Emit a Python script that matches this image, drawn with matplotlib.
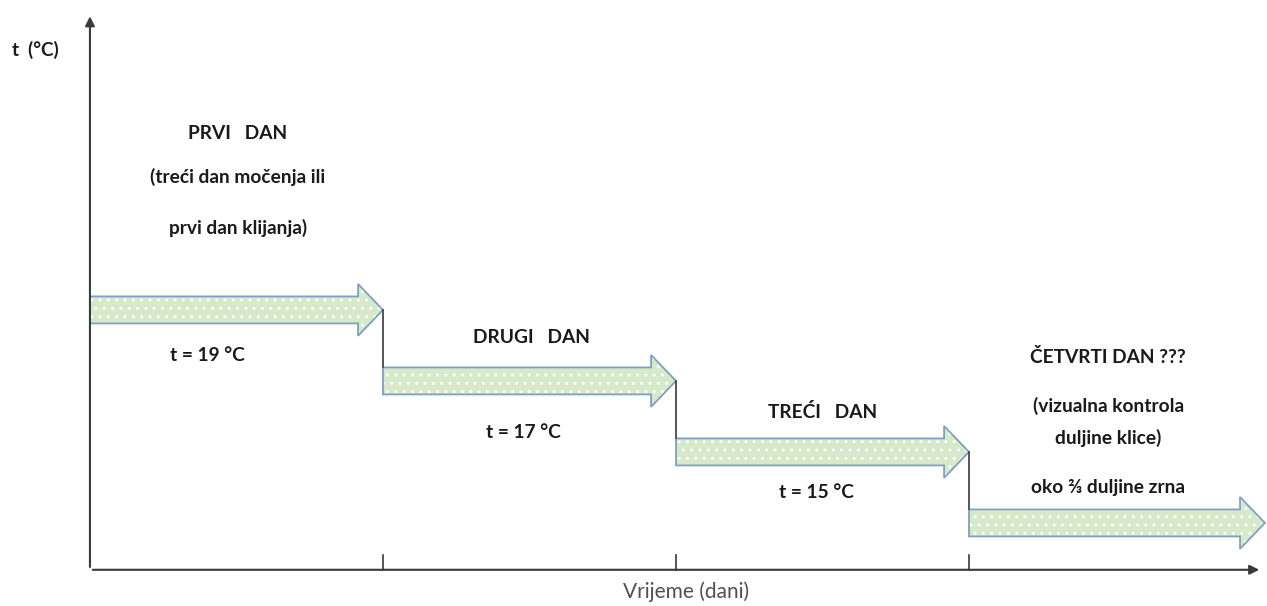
import numpy as np
import matplotlib.pyplot as plt
from matplotlib.patches import FancyArrow

# podaci: dani i temperature
dani_start = [0, 1, 2, 3]
temperature = [19, 17, 15, 13]          # zadnja razina bez oznake (???)
naslovi = ['PRVI   DAN', 'DRUGI   DAN', 'TREĆI   DAN', 'ČETVRTI DAN ???']
opis_prvi = ['(treći dan močenja ili', 'prvi dan klijanja)']
opis_cetvrti = ['(vizualna kontrola', 'duljine klice)', 'oko ⅔ duljine zrna']
oznake_t = ['t = 19 °C', 't = 17 °C', 't = 15 °C']
tick_dani = [1, 2, 3]

plt.rcParams['font.family'] = ['Lato', 'DejaVu Sans']
plt.rcParams['hatch.linewidth'] = 1.0

fig = plt.figure(figsize=(12.67, 6.06), dpi=100)
ax = fig.add_axes([0, 0, 1, 1])
ax.set_xlim(-0.307, 4.017)
ax.set_ylim(10.66, 27.73)
ax.axis('off')

y_os = 11.68   # razina vremenske osi
os_boja = '#3a3a3a'


def py(p):
    # piksel od vrha -> y u podacima
    return 27.73 - p / 35.5


# osi
ax.annotate('', xy=(4.0, y_os), xytext=(0, y_os),
            arrowprops=dict(arrowstyle='-|>', color=os_boja, lw=1.5, mutation_scale=14))
ax.annotate('', xy=(0, 27.35), xytext=(0, y_os),
            arrowprops=dict(arrowstyle='-|>', color=os_boja, lw=1.5, mutation_scale=14))

# crtice na x osi
for d in tick_dani:
    ax.plot([d, d], [y_os, y_os + 0.42], color=os_boja, lw=1.2)

# strelice
sirina = 0.76
glava_w = 1.46
glava_l = 0.085
for i, (d, t) in enumerate(zip(dani_start, temperature)):
    kraj = d + 1.01 if i == 3 else d + 1.0
    fill = FancyArrow(d, t, kraj - d, 0, width=sirina, head_width=glava_w,
                      head_length=glava_l, length_includes_head=True,
                      facecolor='#d6e9c9', edgecolor='white', lw=0, hatch='..')
    edge = FancyArrow(d, t, kraj - d, 0, width=sirina, head_width=glava_w,
                      head_length=glava_l, length_includes_head=True,
                      facecolor='none', edgecolor='#7f9fc7', lw=1.3)
    ax.add_patch(fill)
    ax.add_patch(edge)
    # vertikalni pad na sljedeci dan
    if i < 3:
        ax.plot([d + 1, d + 1], [t, temperature[i + 1] + sirina / 2],
                color=os_boja, lw=1.2)

txt = dict(ha='center', va='center', fontsize=13.8, fontweight='bold', color='#1a1a1a')

# PRVI DAN
ax.text(0.505, py(133), naslovi[0], **txt)
ax.text(0.505, py(177), opis_prvi[0], **txt)
ax.text(0.505, py(228), opis_prvi[1], **txt)
ax.text(0.40, py(355), oznake_t[0], **txt)
# DRUGI DAN
ax.text(1.508, py(337), naslovi[1], **txt)
ax.text(1.48, py(432), oznake_t[1], **txt)
# TRECI DAN
ax.text(2.50, py(412), naslovi[2], **txt)
ax.text(2.48, py(492), oznake_t[2], **txt)
# CETVRTI DAN
ax.text(3.475, py(357), naslovi[3], **txt)
for tekst, p in zip(opis_cetvrti, [406, 438, 487]):
    ax.text(3.475, py(p), tekst, **txt)

# oznake osi
ax.text(12 / 293 - 0.307, py(50), 't  (°C)', ha='left', va='center',
        fontsize=13.5, fontweight='bold', color='#1a1a1a')
ax.text((686 - 90) / 293, py(592), 'Vrijeme (dani)', ha='center', va='center',
        fontsize=15, color='#505050')

fig.savefig('out.png', dpi=100)
